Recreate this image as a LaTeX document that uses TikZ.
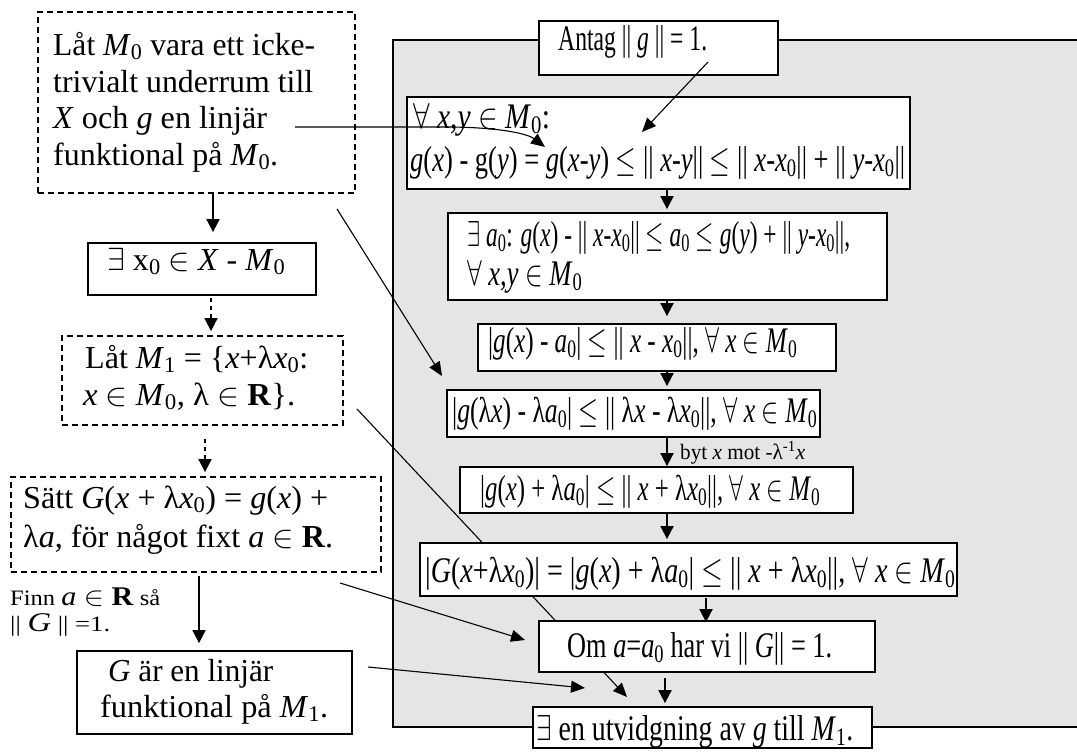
\RequirePackage{fix-cm}
\documentclass[tikz,border=0pt]{standalone}
\usepackage{fontspec}
\setmainfont{Liberation Serif}
\usepackage{graphicx}
\usetikzlibrary{arrows.meta,fit}
\pgfdeclarelayer{bg}
\pgfdeclarelayer{mid}
\pgfsetlayers{bg,mid,main}
\definecolor{panelgray}{RGB}{229,229,229}
\newcommand\fitw[2]{\resizebox{#1pt}{\height}{#2}}
\newcommand\mi[1]{\textit{#1}}
\newcommand\sbz[1]{\textsubscript{#1}}
\newcommand\sFA{$\forall$}
\newcommand\sEX{$\exists$}
\newcommand\sIN{$\in$}
\newcommand\sLE{$\leq$}
\begin{document}
\begin{tikzpicture}[x=1pt,y=-1pt,
  sbox/.style={draw, line width=1.8pt, fill=white, inner sep=0pt},
  dbox/.style={sbox, dash pattern=on 6pt off 4pt},
  panel/.style={draw, line width=1.8pt, fill=panelgray, inner sep=0pt},
  lt/.style={anchor=base west, inner sep=0pt, font=\fontsize{32}{36}\selectfont},
  rt/.style={anchor=base west, inner sep=0pt, font=\fontsize{36}{40}\selectfont},
  st/.style={anchor=base west, inner sep=0pt, font=\fontsize{22}{26}\selectfont},
  varr/.style={line width=1.8pt, -{Triangle[length=13pt,width=13pt]}},
  darr/.style={varr, dash pattern=on 4pt off 4pt},
  tarr/.style={line width=1.1pt, -{Triangle[length=14pt,width=12pt]}}]
\useasboundingbox (0,0) rectangle (1077,753);
\begin{pgfonlayer}{bg}
\node[panel, fit={(393,40) (1100,727)}] (P) {};
\end{pgfonlayer}

% ---------- left column ----------
\node[dbox, fit={(38,12) (355,193)}] (L1) {};
\node[lt] (L1a) at (53,55) {\fitw{262}{Låt \mi{M}\sbz{0} vara ett icke-}};
\node[lt] (L1b) at (53,92) {\fitw{260}{trivialt underrum till}};
\node[lt] (L1c) at (53,128) {\fitw{214}{\mi{X} och \mi{g} en linjär}};
\node[lt] (L1d) at (53,165) {\fitw{225}{funktional på \mi{M}\sbz{0}.}};

\node[sbox, fit={(88,243) (316,295)}] (L2) {};
\node[lt] (L2a) at (107,270) {\fitw{178}{\sEX{} x\sbz{0} \sIN{} \mi{X} - \mi{M}\sbz{0}}};

\node[dbox, fit={(62,336) (343,425)}] (L3) {};
\node[lt] (L3a) at (85,368) {\fitw{223}{Låt \mi{M}\sbz{1} = \{\mi{x}+λ\mi{x}\sbz{0}:}};
\node[lt] (L3b) at (83,405) {\fitw{212}{\mi{x} \sIN{} \mi{M}\sbz{0}, λ \sIN{} \textbf{R}\}.}};

\node[dbox, fit={(11,477) (381,572)}] (L4) {};
\node[lt] (L4a) at (23,508) {\fitw{305}{Sätt \mi{G}(\mi{x} + λ\mi{x}\sbz{0}) = \mi{g}(\mi{x}) +}};
\node[lt] (L4b) at (23,547) {\fitw{310}{λ\mi{a}, för något fixt \mi{a} \sIN{} \textbf{R}.}};

\node[st] (F1) at (10,605) {\fitw{150}{Finn {\fontsize{27}{30}\selectfont\mi{a} \sIN{} \textbf{R}} så}};
\node[st] (F2) at (10,631) {\fitw{100}{|| {\fontsize{27}{30}\selectfont\mi{G}} || =1.}};

\node[sbox, fit={(77,651) (352,734)}] (L5) {};
\node[lt] (L5a) at (108,681) {\fitw{165}{\mi{G} är en linjär}};
\node[lt] (L5b) at (100,717) {\fitw{228}{funktional på \mi{M}\sbz{1}.}};

% ---------- right column ----------
\node[sbox, fit={(539,21) (778,75)}] (A) {};
\node[rt] (Aa) at (558,50) {\fitw{149}{Antag || \mi{g} || = 1.}};

\node[sbox, fit={(407,97) (910,189)}] (R2) {};
\node[rt] (R2a) at (413,128) {\fitw{137}{\sFA{} \mi{x,y} \sIN{} \mi{M}\sbz{0}:}};
\node[rt] (R2b) at (410,171) {\fitw{495}{\mi{g}(\mi{x}) - g(\mi{y}) = \mi{g}(\mi{x-y}) \sLE{} || \mi{x-y}|| \sLE{} || \mi{x-x}\sbz{0}|| + || \mi{y-x}\sbz{0}||}};

\node[sbox, fit={(448,213) (887,300)}] (R3) {};
\node[rt] (R3a) at (467,246) {\fitw{383}{\sEX{} \mi{a}\sbz{0}: \mi{g}(\mi{x}) - || \mi{x-x}\sbz{0}|| \sLE{} \mi{a}\sbz{0} \sLE{} \mi{g}(\mi{y}) + || \mi{y-x}\sbz{0}||,}};
\node[rt] (R3b) at (467,285) {\fitw{115}{\sFA{} \mi{x,y} \sIN{} \mi{M}\sbz{0}}};

\node[sbox, fit={(478,324) (836,371)}] (R4) {};
\node[rt] (R4a) at (488,352) {\fitw{309}{|\mi{g}(\mi{x}) - \mi{a}\sbz{0}| \sLE{} || \mi{x} - \mi{x}\sbz{0}||, \sFA{} \mi{x} \sIN{} \mi{M}\sbz{0}}};

\node[sbox, fit={(447,390) (820,437)}] (R5) {};
\node[rt] (R5a) at (452,422) {\fitw{365}{|\mi{g}(λ\mi{x}) - λ\mi{a}\sbz{0}| \sLE{} || λ\mi{x} - λ\mi{x}\sbz{0}||, \sFA{} \mi{x} \sIN{} \mi{M}\sbz{0}}};

\node[st] (By) at (680,459) {\fitw{125}{byt \mi{x} mot -λ\textsuperscript{-1}\mi{x}}};

\node[sbox, fit={(460,467) (853,513)}] (R6) {};
\node[rt] (R6a) at (480,500) {\fitw{340}{|\mi{g}(\mi{x}) + λ\mi{a}\sbz{0}| \sLE{} || \mi{x} + λ\mi{x}\sbz{0}||, \sFA{} \mi{x} \sIN{} \mi{M}\sbz{0}}};

\node[sbox, fit={(420,543) (957,596)}] (R7) {};
\node[rt] (R7a) at (425,582) {\fitw{530}{|\mi{G}(\mi{x}+λ\mi{x}\sbz{0})| = |\mi{g}(\mi{x}) + λ\mi{a}\sbz{0}| \sLE{} || \mi{x} + λ\mi{x}\sbz{0}||, \sFA{} \mi{x} \sIN{} \mi{M}\sbz{0}}};

\node[sbox, fit={(539,621) (875,672)}] (Om) {};
\node[rt] (Oma) at (567,657) {\fitw{265}{Om \mi{a}=\mi{a}\sbz{0} har vi || \mi{G}|| = 1.}};

\node[sbox, fit={(533,707) (872,748)}] (Fin) {};
\node[rt] (Fina) at (536,740) {\fitw{317}{\sEX{} en utvidgning av \mi{g} till \mi{M}\sbz{1}.}};

% ---------- coordinates ----------
\coordinate (xa) at (213,0);
\coordinate (xb) at (211,0);
\coordinate (xc) at (205,0);
\coordinate (xd) at (199,0);
\coordinate (rx) at (667,0);
\coordinate (rxo) at (706,0);
\coordinate (rxf) at (665,0);
\coordinate (ca1) at (295,127);
\coordinate (ca2) at (445,127);
\coordinate (ca3) at (545,147);
\coordinate (cb1) at (708,62);
\coordinate (cb2) at (642,132);
\coordinate (cc1) at (337,209);
\coordinate (cc2) at (442,376);
\coordinate (cd1) at (357,409);
\coordinate (cd2) at (627,697);
\coordinate (ce1) at (340,583);
\coordinate (ce2) at (525,640);
\coordinate (cf1) at (368,667);
\coordinate (cf2) at (585,688);

% ---------- left arrows ----------
\draw[varr, shorten >=10pt] (L1.south -| xa) -- (L2.north -| xa);
\draw[darr, shorten <=2pt, shorten >=4pt] (L2.south -| xb) -- (L3.north -| xb);
\draw[darr, shorten <=13pt, shorten >=4pt] (L3.south -| xc) -- (L4.north -| xc);
\draw[varr, shorten <=3pt, shorten >=7pt] (L4.south -| xd) -- (L5.north -| xd);

% ---------- right arrows ----------
\draw[varr, shorten >=3pt] (R2.south -| rx) -- (R3.north -| rx);
\draw[varr, shorten >=7pt] (R3.south -| rx) -- (R4.north -| rx);
\draw[varr, shorten >=3pt] (R4.south -| rx) -- (R5.north -| rx);
\draw[varr] (R5.south -| rx) -- (R6.north -| rx);
\draw[varr, shorten >=3pt] (R6.south -| rx) -- (R7.north -| rx);
\draw[varr, shorten <=1pt, shorten >=-2pt] (R7.south -| rxo) -- (Om.north -| rxo);
\draw[varr, shorten <=5pt, shorten >=3pt] (Om.south -| rxf) -- (Fin.north -| rxf);

% ---------- thin connectors ----------
\draw[tarr] (ca1) -- (ca2) .. controls (500,127) and (528,134) .. (ca3);
\draw[tarr] (cb1) -- (cb2);
\begin{pgfonlayer}{mid}
\draw[tarr] (cc1) -- (cc2);
\draw[tarr] (cd1) -- (cd2);
\draw[tarr] (ce1) -- (ce2);
\draw[tarr] (cf1) -- (cf2);
\end{pgfonlayer}
\end{tikzpicture}
\end{document}
